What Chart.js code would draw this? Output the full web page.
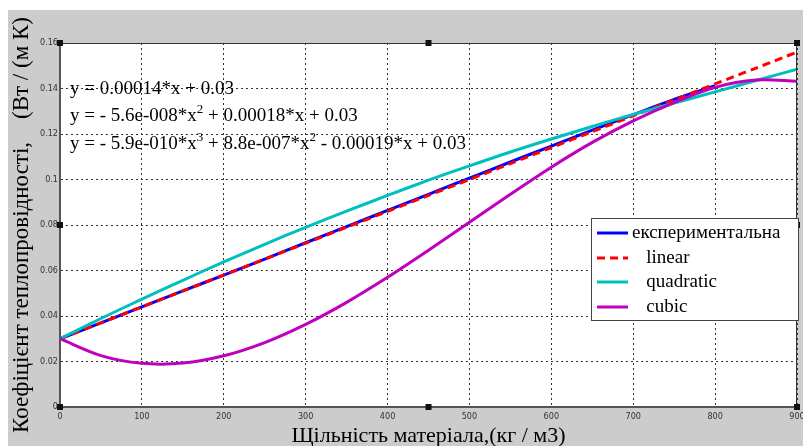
<!DOCTYPE html>
<html>
<head>
<meta charset="utf-8">
<script src="https://cdn.jsdelivr.net/npm/chart.js@4/dist/chart.umd.min.js"></script>
<style>
  body { margin: 0; background: #fff; }
  canvas { display: block; }
</style>
</head>
<body>
<canvas id="myChart" width="803" height="446"></canvas>
<script>
// density, kg/m3
var density = [0, 50, 100, 150, 200, 250, 300, 350, 400, 450, 500, 550, 600, 650, 700, 750, 800, 850, 900];
// measured values (stop at 800)
var experimental = [0.030, 0.037, 0.044, 0.051, 0.058, 0.065, 0.0722, 0.0793, 0.0864, 0.0935, 0.1006, 0.1077, 0.1147, 0.1217, 0.1285, 0.1352, 0.1412];
var linearFit = [0.030, 0.037, 0.044, 0.051, 0.058, 0.065, 0.072, 0.079, 0.086, 0.093, 0.100, 0.107, 0.114, 0.121, 0.128, 0.135, 0.142, 0.149, 0.156];
var quadraticFit = [0.030, 0.0389, 0.0474, 0.0557, 0.0638, 0.0715, 0.0790, 0.0861, 0.0930, 0.0997, 0.1060, 0.1121, 0.1178, 0.1233, 0.1286, 0.1336, 0.1385, 0.1435, 0.1485];
var cubicFit = [0.030, 0.0226, 0.0192, 0.0193, 0.0225, 0.0283, 0.0363, 0.0460, 0.0570, 0.0689, 0.0812, 0.0935, 0.1054, 0.1163, 0.1258, 0.1338, 0.1405, 0.1437, 0.1432];
var legendNames = ['експериментальна', '   linear', '   quadratic', '   cubic'];
// [text, superscript?]
var equations = [
  [['y = 0.00014*x + 0.03', 0]],
  [['y = - 5.6e-008*x', 0], ['2', 1], [' + 0.00018*x + 0.03', 0]],
  [['y = - 5.9e-010*x', 0], ['3', 1], [' + 8.8e-007*x', 0], ['2', 1], [' - 0.00019*x + 0.03', 0]]
];

function pts(vals) {
  return vals.map(function (v, i) { return {x: density[i], y: v}; });
}

var serif = "'Liberation Serif', 'Times New Roman', serif";
var narrow = "'Liberation Sans Narrow', 'DejaVu Sans Condensed', 'Liberation Sans', sans-serif";

var decor = {
  id: 'decor',
  beforeDraw: function (chart) {
    var ctx = chart.ctx, a = chart.chartArea;
    ctx.save();
    ctx.fillStyle = '#fff';
    ctx.fillRect(0, 0, chart.width, chart.height);
    ctx.fillStyle = '#cccccc';
    ctx.fillRect(8, 10, chart.width - 8, chart.height - 10);
    ctx.fillStyle = '#fff';
    ctx.fillRect(a.left, a.top, a.right - a.left, a.bottom - a.top);
    ctx.restore();
  },
  afterDatasetsDraw: function (chart) {
    var ctx = chart.ctx, a = chart.chartArea;
    ctx.save();
    // frame
    ctx.strokeStyle = '#333';
    ctx.lineWidth = 1;
    ctx.strokeRect(a.left + 0.5, a.top + 0.5, a.right - a.left - 1, a.bottom - a.top - 1);
    ctx.strokeStyle = '#555';
    ctx.lineWidth = 2;
    ctx.beginPath();
    ctx.moveTo(a.left, a.top); ctx.lineTo(a.left, a.bottom); ctx.lineTo(a.right, a.bottom);
    ctx.stroke();
    // handles
    ctx.fillStyle = '#111';
    var mx = (a.left + a.right) / 2, my = (a.top + a.bottom) / 2;
    [[a.left, a.top], [mx, a.top], [a.right, a.top], [a.left, my], [a.right, my],
     [a.left, a.bottom], [mx, a.bottom], [a.right, a.bottom]].forEach(function (p) {
      ctx.fillRect(p[0] - 3, p[1] - 3, 6, 6);
    });
    // equations
    ctx.fillStyle = '#000';
    ctx.textBaseline = 'alphabetic';
    var base = [94, 121, 149];
    equations.forEach(function (parts, k) {
      var x = 70;
      parts.forEach(function (p) {
        ctx.font = (p[1] ? '13px ' : '19px ') + serif;
        ctx.fillText(p[0], x, base[k] - (p[1] ? 8 : 0));
        x += ctx.measureText(p[0]).width;
      });
    });
    // legend
    ctx.fillStyle = '#fff';
    ctx.fillRect(591, 218, 207, 102);
    ctx.strokeStyle = '#444';
    ctx.lineWidth = 1;
    ctx.strokeRect(591.5, 218.5, 207, 102);
    var rows = [233, 258, 282, 307];
    chart.data.datasets.forEach(function (ds, i) {
      ctx.strokeStyle = ds.borderColor;
      ctx.lineWidth = 3;
      ctx.setLineDash(ds.borderDash || []);
      ctx.beginPath();
      ctx.moveTo(597, rows[i]); ctx.lineTo(628, rows[i]);
      ctx.stroke();
      ctx.setLineDash([]);
      ctx.fillStyle = '#000';
      ctx.font = '19px ' + serif;
      ctx.textBaseline = 'middle';
      ctx.fillText(legendNames[i], 632, rows[i]);
    });
    ctx.restore();
  }
};

new Chart("myChart", {
  type: "line",
  data: {
    datasets: [{
      label: legendNames[0], data: pts(experimental),
      borderColor: "#0000ff", borderWidth: 3, order: 4
    }, {
      label: legendNames[1], data: pts(linearFit),
      borderColor: "#ff0000", borderWidth: 3, borderDash: [8, 5], order: 3
    }, {
      label: legendNames[2], data: pts(quadraticFit),
      borderColor: "#00bfbf", borderWidth: 3, order: 2
    }, {
      label: legendNames[3], data: pts(cubicFit),
      borderColor: "#bf00bf", borderWidth: 3, order: 1
    }]
  },
  options: {
    responsive: false,
    animation: false,
    devicePixelRatio: 1,
    layout: {padding: {top: 43, right: 6, left: 0, bottom: 0}},
    elements: {point: {radius: 0}, line: {tension: 0.3, fill: false}},
    plugins: {legend: {display: false}, tooltip: {enabled: false}},
    scales: {
      x: {
        type: 'linear', min: 0, max: 900,
        afterFit: function (s) { s.height = 39; s.paddingRight = 0; s.paddingLeft = 0; },
        ticks: {stepSize: 100, maxRotation: 0, padding: 4, color: '#333', font: {family: narrow, size: 9}},
        grid: {color: '#333', drawTicks: false},
        border: {color: '#555', width: 2, dash: [2, 3]},
        title: {display: true, text: 'Щільність матеріала,(кг / м3)', color: '#000',
                font: {family: serif, size: 22, lineHeight: 1}, padding: {top: 0, bottom: -1}}
      },
      y: {
        min: 0, max: 0.16,
        afterFit: function (s) { s.width = 60; },
        ticks: {stepSize: 0.02, padding: 2, color: '#333', font: {family: narrow, size: 9},
                callback: function (v) { return String(parseFloat(v.toFixed(2))); }},
        grid: {color: '#333', drawTicks: false},
        border: {color: '#555', width: 2, dash: [2, 3]},
        title: {display: true, text: 'Коефіцієнт теплопровідності,    (Вт / (м К)', color: '#000',
                font: {family: serif, size: 23, lineHeight: 1}, padding: {top: 10, bottom: 0}}
      }
    }
  },
  plugins: [decor]
});
</script>
</body>
</html>
